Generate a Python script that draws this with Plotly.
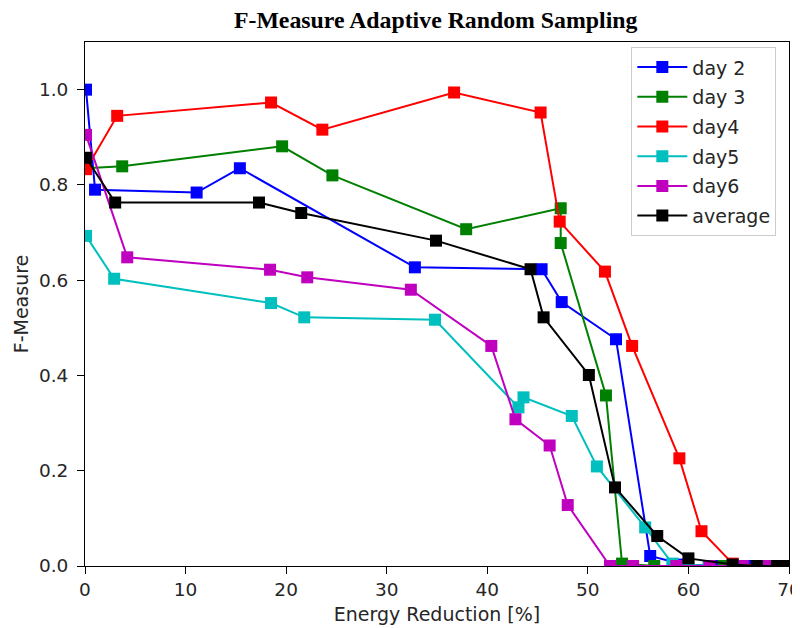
import plotly.graph_objects as go

# ---- data ----
names = ["day 2", "day 3", "day4", "day5", "day6", "average"]
colors = ["#0000ff", "#008000", "#ff0000", "#00bfbf", "#bf00bf", "#000000"]

day2_x = [0.1, 1.0, 11.1, 15.4, 32.8, 45.4, 47.4, 52.8, 56.2, 59.5, 63.0, 66.0, 69.0]
day2_y = [1.0, 0.79, 0.784, 0.835, 0.627, 0.623, 0.554, 0.476, 0.021, 0.003, 0.0, 0.0, 0.0]

day3_x = [0.1, 3.7, 19.6, 24.6, 37.9, 47.3, 47.3, 51.8, 53.4, 56.6, 60.0, 63.5, 67.0, 70.0]
day3_y = [0.835, 0.839, 0.881, 0.82, 0.707, 0.751, 0.678, 0.358, 0.005, 0.0, 0.0, 0.0, 0.0, 0.0]

day4_x = [0.1, 3.2, 18.5, 23.6, 36.7, 45.3, 47.2, 51.7, 54.4, 59.1, 61.3, 64.4, 67.0, 69.4]
day4_y = [0.833, 0.945, 0.973, 0.916, 0.994, 0.952, 0.723, 0.618, 0.462, 0.226, 0.073, 0.005, 0.0, 0.0]

day5_x = [0.1, 2.9, 18.5, 21.8, 34.8, 43.1, 43.6, 48.4, 50.9, 55.7, 58.4, 62.0, 65.0, 67.8, 70.0]
day5_y = [0.693, 0.603, 0.552, 0.522, 0.517, 0.333, 0.354, 0.315, 0.209, 0.081, 0.005, 0.0, 0.0, 0.0, 0.0]

day6_x = [0.1, 4.2, 18.4, 22.1, 32.4, 40.4, 42.8, 46.2, 48.0, 52.2, 54.5, 58.8, 62.1, 65.4, 68.0]
day6_y = [0.905, 0.648, 0.622, 0.606, 0.58, 0.462, 0.308, 0.253, 0.128, 0.0, 0.0, 0.0, 0.0, 0.0, 0.0]

avg_x = [0.1, 3.0, 17.3, 21.5, 34.9, 44.3, 45.6, 50.1, 52.7, 56.9, 60.0, 64.4, 66.8, 68.8, 70.0]
avg_y = [0.857, 0.763, 0.763, 0.741, 0.683, 0.623, 0.522, 0.401, 0.165, 0.063, 0.016, 0.003, 0.0, 0.0, 0.0]

series_x = [day2_x, day3_x, day4_x, day5_x, day6_x, avg_x]
series_y = [day2_y, day3_y, day4_y, day5_y, day6_y, avg_y]

x_ticks = [0, 10, 20, 30, 40, 50, 60, 70]
y_ticks = [0.0, 0.2, 0.4, 0.6, 0.8, 1.0]

fig = go.Figure()
for name, c, xs, ys in zip(names, colors, series_x, series_y):
    fig.add_trace(go.Scatter(
        x=xs, y=ys, name=name, mode="lines+markers",
        legendgroup=name,
        line=dict(color=c, width=2),
        marker=dict(symbol="square", size=12, color=c),
    ))

axis_common = dict(
    showline=True, mirror=True, linecolor="#000000", linewidth=1,
    ticks="outside", ticklen=7, tickcolor="#000000",
    showgrid=False, zeroline=False, automargin=False,
    ticklabeloverflow="allow",
    tickfont=dict(family="DejaVu Sans", size=18.5, color="#262626"),
)

# the page body adds an 8px offset, so the figure is sized 792x620
fig.update_layout(
    width=792, height=620,
    paper_bgcolor="white", plot_bgcolor="white",
    margin=dict(l=77, r=11, t=34, b=62),
    title=dict(
        text="<b>F-Measure Adaptive Random Sampling</b>",
        font=dict(family="Liberation Serif", size=23.8, color="#000000"),
        x=0.54, xanchor="center", y=0.981, yanchor="middle",
    ),
    xaxis=dict(range=[0, 70], tickvals=x_ticks,
               title=dict(text="Energy Reduction [%]", standoff=8,
                          font=dict(family="DejaVu Sans", size=19, color="#262626")),
               **axis_common),
    yaxis=dict(range=[0, 1.1], tickvals=y_ticks, tickformat=".1f",
               ticklabelstandoff=5,
               title=dict(text="F-Measure", standoff=5,
                          font=dict(family="DejaVu Sans", size=19, color="#262626")),
               **axis_common),
    legend=dict(
        x=0.982, y=0.99, xanchor="right", yanchor="top",
        bgcolor="rgba(255,255,255,0.8)", bordercolor="#cccccc", borderwidth=1,
        font=dict(family="DejaVu Sans", size=19, color="#262626"),
        tracegroupgap=2, itemwidth=50,
    ),
    showlegend=True,
)

fig.write_html("out.html")
